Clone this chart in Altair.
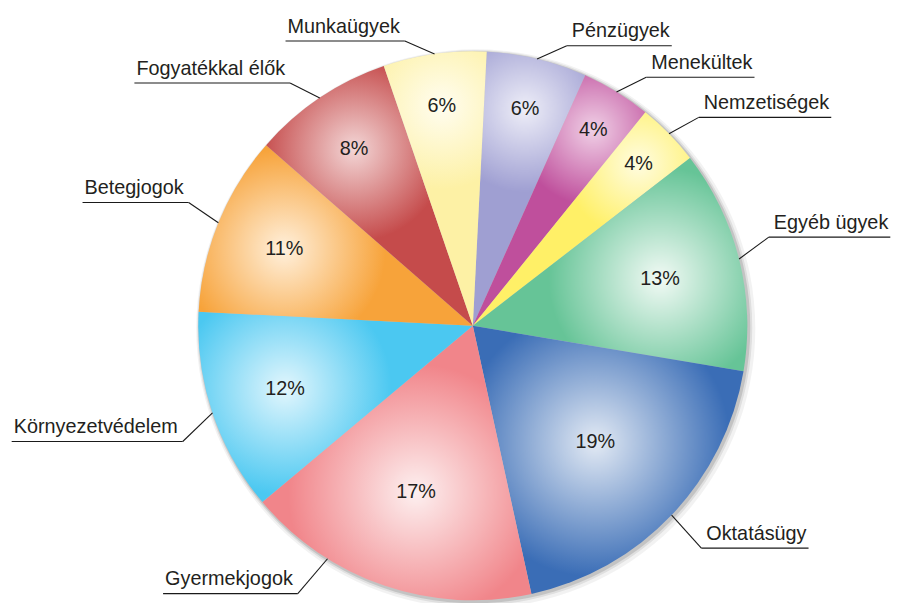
import math
import altair as alt
import pandas as pd

# ---------------- data ----------------
categories = ["Pénzügyek", "Menekültek", "Nemzetiségek", "Egyéb ügyek", "Oktatásügy",
              "Gyermekjogok", "Környezetvédelem", "Betegjogok", "Fogyatékkal élők", "Munkaügyek"]
shares = [5.9, 4.1, 3.7, 13.1, 18.9, 17.3, 11.9, 10.6, 8.3, 6.05]
pct_labels = ["6%", "4%", "4%", "13%", "19%", "17%", "12%", "11%", "8%", "6%"]
edge_colors = ["#9f9fd2", "#bf4f9c", "#fff067", "#66c497", "#3a6db6",
               "#f1858a", "#4bc8f1", "#f7a33a", "#c54b4b", "#fdf1a5"]
light_colors = ["#eeeef8", "#f0d0e6", "#fffce0", "#f2faf5", "#e3eaf4",
                "#fdf0f0", "#e2f6fd", "#fff0dc", "#f3d6d6", "#fffdf0"]
# fraction along each slice where the leader line touches the rim
leader_anchor = [0.5, 0.5, 0.5, 0.5, 0.5, 0.71, 0.5, 0.5, 0.5, 0.5]

# ---------------- layout ----------------
W, H = 893, 595
CX, CY, R = 469, 318, 277
START = math.radians(2.9)
FONT = "Liberation Sans"
FS = 20
TXT = "#231f20"

arial = {"P": 667, "M": 833, "N": 722, "E": 667, "O": 778, "G": 778, "K": 667, "B": 667, "F": 611,
         "a": 556, "b": 556, "c": 500, "d": 556, "e": 556, "g": 556, "i": 222, "j": 222, "k": 500,
         "l": 222, "m": 833, "n": 556, "o": 556, "r": 333, "s": 500, "t": 278, "u": 556, "v": 500,
         "y": 500, "z": 500, "é": 556, "á": 556, "ü": 556, "ö": 556, "ő": 556, " ": 278}


def text_w(s):
    return sum(arial.get(c, 556) for c in s) * FS / 1000.0


def pt(a, r):
    return CX + r * math.sin(a), CY - r * math.cos(a)


total = sum(shares)
rows, segs, labs = [], [], []
acc = 0.0
for i, cat in enumerate(categories):
    a0 = START + 2 * math.pi * acc / total
    acc += shares[i]
    a1 = START + 2 * math.pi * acc / total
    mid = (a0 + a1) / 2
    lr = R * (0.9 - 0.015 * shares[i])
    lx, ly = pt(mid, lr)
    # bounding box of slice (for the radial gradient)
    pts = [(CX, CY), pt(a0, R), pt(a1, R)]
    for k in range(0, 12):
        ang = k * math.pi / 2
        if a0 < ang < a1:
            pts.append(pt(ang, R))
    xs = [p[0] for p in pts]
    ys = [p[1] for p in pts]
    bw, bh = max(xs) - min(xs), max(ys) - min(ys)
    S = max(bw, bh)
    ox = (max(xs) + min(xs)) / 2 - S / 2
    oy = (max(ys) + min(ys)) / 2 - S / 2
    gr = (60 + 4 * shares[i]) / S
    grad = {"gradient": "radial",
            "x1": (lx - ox) / S, "y1": (ly - oy) / S, "r1": 0,
            "x2": (lx - ox) / S, "y2": (ly - oy) / S, "r2": gr,
            "stops": [{"offset": 0, "color": light_colors[i]},
                      {"offset": 1, "color": edge_colors[i]}]}
    rows.append({"cat": cat, "a0": a0, "a1": a1, "lx": lx, "ly": ly,
                 "pct": pct_labels[i], "grad": grad})
    # leader line
    aa = a0 + (a1 - a0) * leader_anchor[i]
    axp, ayp = pt(aa, R)
    side = 1 if math.sin(aa) > 0 else -1
    vdir = -1 if math.cos(aa) > 0 else 1
    dy = 25 + 12 * abs(math.cos(aa)) * vdir
    ex, ey = axp + side * 30, ayp + vdir * dy
    tw = text_w(cat)
    segs.append({"x": axp, "y": ayp, "x2": ex, "y2": ey})
    segs.append({"x": ex, "y": ey, "x2": ex + side * (tw + 7), "y2": ey})
    labs.append({"cat": cat, "tx": ex + side * 5, "ty": ey - 8.5,
                 "side": "right" if side > 0 else "left"})

df = pd.DataFrame([{k: v for k, v in r.items() if k != "grad"} for r in rows])
seg_df = pd.DataFrame(segs)
lab_df = pd.DataFrame(labs)

layers = []
# soft shadow
shadow_df = pd.DataFrame({"a0": [0.0], "a1": [2 * math.pi]})
for dx, dr, op in [(3, 5, 0.05), (2, 3, 0.08), (1.5, 1.5, 0.12)]:
    layers.append(
        alt.Chart(shadow_df).mark_arc(fill="#000000", opacity=op).encode(
            theta=alt.Theta("a0:Q", scale=None), theta2="a1:Q",
            radius=alt.value(R + dr), x=alt.value(CX + dx), y=alt.value(CY + dx))
    )

for r in rows:
    layers.append(
        alt.Chart(df).transform_filter(alt.datum.cat == r["cat"]).mark_arc(
            fill=r["grad"]).encode(
            theta=alt.Theta("a0:Q", scale=None), theta2="a1:Q",
            radius=alt.value(R), x=alt.value(CX), y=alt.value(CY))
    )

layers.append(
    alt.Chart(df).mark_text(font=FONT, fontSize=FS, color=TXT, baseline="middle", align="center").encode(
        x=alt.X("lx:Q", scale=None), y=alt.Y("ly:Q", scale=None), text="pct:N")
)
layers.append(
    alt.Chart(seg_df).mark_rule(color="#1a1a1a", strokeWidth=1.1).encode(
        x=alt.X("x:Q", scale=None), y=alt.Y("y:Q", scale=None), x2="x2:Q", y2="y2:Q")
)
for side, align in [("right", "left"), ("left", "right")]:
    layers.append(
        alt.Chart(lab_df).transform_filter(alt.datum.side == side).mark_text(
            font=FONT, fontSize=FS, color=TXT, align=align, baseline="alphabetic").encode(
            x=alt.X("tx:Q", scale=None), y=alt.Y("ty:Q", scale=None), text="cat:N")
    )

chart = alt.layer(*layers).properties(
    width=W, height=H, padding=0, autosize=alt.AutoSizeParams(type="none")
).configure_view(stroke=None)

chart.save("out.html", embed_options={"renderer": "svg", "actions": False})
